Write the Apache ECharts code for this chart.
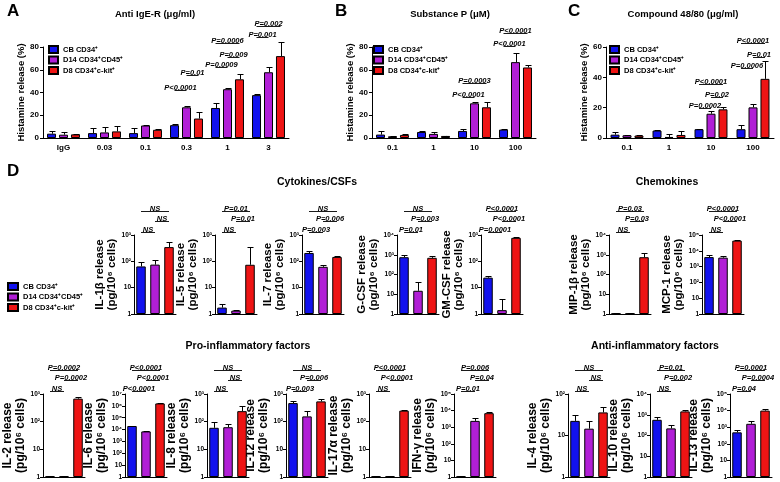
<!DOCTYPE html>
<html><head><meta charset="utf-8">
<script src="https://cdn.jsdelivr.net/npm/echarts@6/dist/echarts.min.js"></script>
<style>html,body{margin:0;padding:0;background:#fff}#c{width:780px;height:482px}</style>
</head><body><div id="c"></div>
<script>
// ---------- DATA ----------
const seriesNames = ['CB CD34⁺', 'D14 CD34⁺CD45⁺', 'D8 CD34⁺c-kit⁺'];

// Panel A: Anti IgE-R
const aCats = ['IgG', '0.03', '0.1', '0.3', '1', '3'];
const aBlue = [3.8, 4.3, 4.3, 11.3, 26.4, 37.7];
const aBlueErr = [6, 8.7, 8.7, 12.5, 30.7, 38.6];
const aPurple = [2.9, 4.9, 11, 27, 42.9, 57.8];
const aPurpleErr = [4.9, 9.6, 11.4, 27.8, 43.8, 62.6];
const aRed = [3.2, 5.8, 7.2, 17.1, 51.6, 72];
const aRedErr = [3.6, 10.4, 7.6, 23.2, 56.5, 84];
// [category, fromBar, toBar, level, text]
const aAnnot = [[3,0,1,42,'P<0.0001'],[3,1,2,55,'P=0.01'],[4,0,1,62,'P=0.0009'],[4,1,2,71.5,'P=0.009'],[4,0,2,83.5,'P=0.0006'],[5,0,1,89,'P=0.001'],[5,0,2,98.5,'P=0.002']];

// Panel B: Substance P
const bCats = ['0.1', '1', '10', '100'];
const bBlue = [3, 5.3, 6.2, 7.4];
const bBlueErr = [6.2, 6.2, 8, 8];
const bPurple = [1.5, 3.6, 30.5, 66.7];
const bPurpleErr = [1.9, 5.3, 32, 75];
const bRed = [2.7, 1.8, 27, 62];
const bRedErr = [3.1, 2.1, 31.4, 64];
const bAnnot = [[2,0,1,36,'P<0.0001'],[2,0,2,48,'P=0.0003'],[3,0,1,80.5,'P<0.0001'],[3,0,2,92.5,'P<0.0001']];

// Panel C: Compound 48/80
const cCats = ['0.1', '1', '10', '100'];
const cBlue = [2.2, 4.9, 5.8, 5.8];
const cBlueErr = [4, 5.1, 5.9, 8.4];
const cPurple = [1.8, 0.7, 16, 20.2];
const cPurpleErr = [2.1, 2.9, 17.6, 22.7];
const cRed = [1.6, 2, 18.9, 39];
const cRedErr = [1.8, 4.7, 20.2, 51];
const cAnnot = [[2,0,1,19.6,'P=0.0002'],[2,1,2,27.2,'P=0.02'],[2,0,2,35.4,'P<0.0001'],[3,0,1,46,'P=0.0006'],[3,1,2,53.2,'P=0.01'],[3,0,2,62.4,'P<0.0001']];

// Panel D: secreted factors (log scale)
const dNames = ['IL-1β','IL-5','IL-7','G-CSF','GM-CSF','MIP-1β','MCP-1','IL-2','IL-6','IL-8','IL-12','IL-17α','IFN-γ','IL-4','IL-10','IL-13'];
const dMax = [1e3,1e3,1e3,1e4,1e3,1e4,1e5,1e3,1e7,1e3,1e3,1e3,1e5,1e2,1e4,1e5];
const dBlue = [64, 1.75, 208, 750, 24, 1.05, 4000, 1.05, 20000, 60, 470, 1.05, 1.08, 22.5, 570, 490];
const dBlueErr = [94, 2.4, 240, 1000, 27, 1.12, 5500, 1.12, 22000, 95, 540, 1.12, 1.16, 31, 800, 720];
const dPurple = [75, 1.34, 62, 15, 1.4, 1.05, 3700, 1.05, 7000, 63, 155, 1.05, 2400, 14.6, 220, 1600];
const dPurpleErr = [112, 1.45, 75, 40, 3.8, 1.12, 4800, 1.12, 7600, 82, 235, 1.12, 3500, 22, 310, 2240];
const dRed = [347, 74, 147, 700, 780, 750, 44000, 680, 1.6e6, 240, 540, 250, 7000, 36, 1450, 10000];
const dRedErr = [550, 355, 166, 820, 830, 1200, 48000, 780, 1.75e6, 360, 650, 270, 8700, 48, 1770, 12000];
const dTopTxt = ['NS','P=0.01','NS','NS','P<0.0001','P=0.03','P<0.0001','P=0.0002','P<0.0001','NS','NS','P<0.0001','P=0.006','NS','P=0.01','P=0.0001'];
const dMidTxt = ['NS','P=0.01','P=0.006','P=0.003','P<0.0001','P=0.03','P<0.0001','P=0.0002','P<0.0001','NS','P=0.006','P<0.0001','P=0.04','NS','P=0.002','P=0.0004'];
const dLowTxt = ['NS','NS','P=0.003','P=0.01','P=0.0001','NS','NS','NS','P<0.0001','NS','P=0.003','NS','P=0.01','NS','NS','P=0.04'];

// ---------- LAYOUT / STYLE ----------
const FONT = '"Liberation Sans", Arial, Helvetica, sans-serif';
const colors = ['#1212ee', '#b11fd6', '#ee1414'];
const barOff = [-12, 0, 12];
const dLeft = [134, 215, 302, 397, 481, 609, 702, 43, 125, 207, 286, 369, 454, 568, 650, 730];

const supMap = {'0':'⁰','1':'¹','2':'²','3':'³','4':'⁴','5':'⁵','6':'⁶','7':'⁷','8':'⁸','9':'⁹'};
function logLabel(v){
  const n = Math.round(Math.log10(v));
  if (n === 0) return '1';
  if (n === 1) return '10';
  return '10' + String(n).split('').map(c => supMap[c]).join('');
}

const grid = [], xAxis = [], yAxis = [], series = [];

function errRender(off, cap){
  return function(params, api){
    const ci = api.value(0);
    const p = api.coord([ci, api.value(1)]);
    const e = api.coord([ci, api.value(2)]);
    const x = Math.round(p[0] + off) + 0.5;
    const ey = Math.round(e[1]) + 0.5;
    return {type:'group', children:[
      {type:'line', shape:{x1:x, y1:p[1], x2:x, y2:ey}, style:{stroke:'#000', lineWidth:1}},
      {type:'line', shape:{x1:x-cap, y1:ey, x2:x+cap, y2:ey}, style:{stroke:'#000', lineWidth:1}}
    ]};
  };
}

function annEl(x1, x2, y, text){
  return {type:'group', children:[
    {type:'line', shape:{x1:x1, y1:y, x2:x2, y2:y}, style:{stroke:'#000', lineWidth:0.9}},
    {type:'text', x:(x1+x2)/2, y:y+1.2, style:{text:text, align:'center', verticalAlign:'bottom',
      font:'italic bold 7.5px ' + FONT, fill:'#000'}}
  ]};
}

function histPanel(gi, box, cats, vals, errs, yMax, annots){
  grid.push({left:box[0], top:box[1], width:box[2], height:box[3], containLabel:false, outerBoundsMode:'none'});
  xAxis.push({type:'category', gridIndex:gi, data:cats,
    axisLine:{lineStyle:{color:'#000', width:1}}, axisTick:{show:false},
    axisLabel:{fontSize:8, fontWeight:'bold', color:'#000', fontFamily:FONT, margin:6}});
  yAxis.push({type:'value', gridIndex:gi, min:0, max:yMax, interval:20,
    axisLine:{show:true, lineStyle:{color:'#000'}}, axisTick:{show:true, length:3, lineStyle:{color:'#000'}},
    axisLabel:{fontSize:8, fontWeight:'bold', color:'#000', fontFamily:FONT, margin:4},
    splitLine:{show:false},
    name:'Histamine release (%)', nameLocation:'middle', nameRotate:90, nameGap:15,
    nameTextStyle:{fontSize:9.5, fontWeight:'bold', color:'#000', fontFamily:FONT}});
  for (let s = 0; s < 3; s++){
    series.push({type:'bar', name:seriesNames[s], xAxisIndex:gi, yAxisIndex:gi, data:vals[s],
      barWidth:9, barGap:'33%', itemStyle:{color:colors[s], borderColor:'#000', borderWidth:1}, silent:true});
    series.push({type:'custom', xAxisIndex:gi, yAxisIndex:gi, z:3, silent:true,
      data:cats.map((c, i) => [i, vals[s][i], errs[s][i]]), renderItem:errRender(barOff[s], 3)});
  }
  series.push({type:'custom', xAxisIndex:gi, yAxisIndex:gi, z:4, silent:true,
    data:annots.map(a => [a[0], 0]),
    renderItem:function(params, api){
      const a = annots[params.dataIndex];
      const p = api.coord([a[0], a[3]]);
      return annEl(p[0] + barOff[a[1]], p[0] + barOff[a[2]], Math.round(p[1]) + 0.5, a[4]);
    }});
}

histPanel(0, [43, 47, 246, 91], aCats, [aBlue, aPurple, aRed], [aBlueErr, aPurpleErr, aRedErr], 80, aAnnot);
histPanel(1, [372, 47, 164, 91], bCats, [bBlue, bPurple, bRed], [bBlueErr, bPurpleErr, bRedErr], 80, bAnnot);
histPanel(2, [606, 47, 168, 91], cCats, [cBlue, cPurple, cRed], [cBlueErr, cPurpleErr, cRedErr], 60, cAnnot);

function dPanel(gi, k){
  const row = k < 7 ? 0 : 1;
  const top = row ? 394 : 235, h = row ? 83 : 79;
  grid.push({left:dLeft[k], top:top, width:42, height:h, containLabel:false, outerBoundsMode:'none'});
  xAxis.push({type:'category', gridIndex:gi, data:['a', 'b', 'c'],
    axisLine:{lineStyle:{color:'#000', width:1}}, axisTick:{show:false}, axisLabel:{show:false}});
  yAxis.push({type:'log', logBase:10, gridIndex:gi, min:1, max:dMax[k],
    axisLine:{show:true, lineStyle:{color:'#000'}}, axisTick:{show:true, length:3, lineStyle:{color:'#000'}},
    axisLabel:{fontSize:6.5, fontWeight:'bold', color:'#000', fontFamily:FONT, margin:3, formatter:logLabel},
    splitLine:{show:false}, minorTick:{show:false},
    name:dNames[k] + ' release\n(pg/10⁶ cells)', nameLocation:'middle', nameRotate:90, nameGap: row ? 14 : 15,
    nameTextStyle:{fontSize: row ? 12 : 11.5, lineHeight: row ? 12.5 : 12, fontWeight:'bold', color:'#000', fontFamily:FONT}});
  const vals = [dBlue[k], dPurple[k], dRed[k]];
  const errs = [dBlueErr[k], dPurpleErr[k], dRedErr[k]];
  series.push({type:'bar', name:'d' + k, xAxisIndex:gi, yAxisIndex:gi, barWidth:9.5, silent:true,
    data:vals.map((v, i) => ({value:v, itemStyle:{color:colors[i]}})),
    itemStyle:{borderColor:'#000', borderWidth:1}});
  series.push({type:'custom', xAxisIndex:gi, yAxisIndex:gi, z:3, silent:true,
    data:vals.map((v, i) => [i, v, errs[i]]), renderItem:errRender(0, 3)});
  const ann = [[0, 2, -24, dTopTxt[k]], [1, 2, -14, dMidTxt[k]], [0, 1, -3.5, dLowTxt[k]]];
  series.push({type:'custom', xAxisIndex:gi, yAxisIndex:gi, z:4, silent:true,
    data:ann.map(a => [a[0], 1]),
    renderItem:function(params, api){
      const a = ann[params.dataIndex];
      const yT = api.coord([0, dMax[k]])[1];
      const x1 = api.coord([a[0], 1])[0], x2 = api.coord([a[1], 1])[0];
      return annEl(x1, x2, Math.round(yT + a[2]) + 0.5, a[3]);
    }});
}
for (let k = 0; k < dNames.length; k++) dPanel(3 + k, k);

function legendAt(left, top, iw){
  return {data:seriesNames, left:left, top:top, orient:'vertical', icon:'rect', itemWidth:iw, itemHeight:7,
    itemGap:1.5, padding:0, selectedMode:false,
    textStyle:{fontSize:7.5, fontWeight:'bold', color:'#000', fontFamily:FONT, lineHeight:8}};
}

function ttl(text, x, y, size, align){
  return {text:text, left:x, top:y, textAlign:align || 'center', padding:0,
    textStyle:{fontSize:size, fontWeight:'bold', color:'#000', fontFamily:FONT}};
}

const chart = echarts.init(document.getElementById('c'), null, {renderer:'canvas'});
chart.setOption({
  animation:false,
  backgroundColor:'#fff',
  title:[
    ttl('A', 7, 3, 17, 'left'), ttl('B', 335, 3, 17, 'left'), ttl('C', 568, 3, 17, 'left'), ttl('D', 7, 163, 17, 'left'),
    ttl('Anti IgE-R (μg/ml)', 155, 9, 9.5), ttl('Substance P (μM)', 450, 9, 9.5), ttl('Compound 48/80 (μg/ml)', 683, 9, 9.5),
    ttl('Cytokines/CSFs', 317, 177, 10.5), ttl('Chemokines', 667, 177, 10.5),
    ttl('Pro-inflammatory factors', 248, 341, 10.5), ttl('Anti-inflammatory factors', 655, 341, 10.5)
  ],
  legend:[legendAt(48, 45, 9), legendAt(373, 45, 9), legendAt(609, 45, 9), legendAt(7, 282, 10)],
  grid:grid, xAxis:xAxis, yAxis:yAxis, series:series
});
</script>
</body></html>
